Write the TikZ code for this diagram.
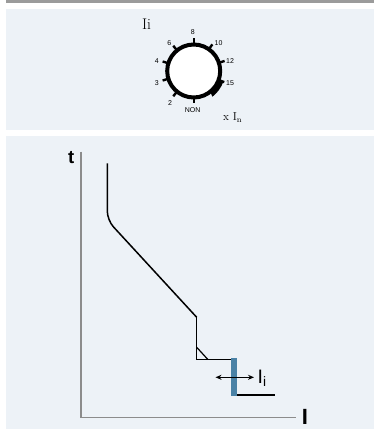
\documentclass[tikz,border=0pt]{standalone}
\usepackage{fontspec}
\newfontfamily\lsans{Liberation Sans}
\usetikzlibrary{arrows.meta}
\definecolor{panel}{HTML}{EDF2F7}
\definecolor{topbar}{HTML}{9B9B9B}
\definecolor{axisgray}{HTML}{8C8C8C}
\definecolor{barblue}{HTML}{4A82A6}
\tikzset{
  ticklbl/.style={font=\lsans\fontsize{7}{7}\selectfont, inner sep=0pt},
  dialtick/.style={line width=2.4pt},
  curve/.style={line width=1.5pt, line join=miter},
  axisline/.style={axisgray, line width=1.6pt},
}
\begin{document}
\begin{tikzpicture}[x=1pt,y=-1pt]
\useasboundingbox (0,0) rectangle (374,430);
% background bands
\fill[topbar] (6,0) rectangle (374,3);
\fill[panel] (6,9) rectangle (374,130);
\fill[panel] (6,136) rectangle (374,429);

% ---------- dial ----------
\node[font=\fontsize{15.5}{15.5}\selectfont, inner sep=0pt] (title) at (146.5,24.5) {Ii};
\begin{scope}[shift={(193.7,71)}, yscale=-1]
  \coordinate (dc) at (0,0);
  \draw[line width=4pt, fill=white] (dc) circle (26.5);
  \foreach \a in {90,55,18,-20,129,163,197,231,270}
    \draw[dialtick] (\a:27) -- (\a:32.5);
  \fill (-20:27) -- (-20:31.5) arc[start angle=-20, end angle=-52, radius=33.5]
        -- (-52:27) arc[start angle=-52, end angle=-20, radius=27] -- cycle;
\end{scope}
\node[ticklbl] (l8) at (192.7,32.3) {8};
\node[ticklbl] (l10) at (218.5,42.7) {10};
\node[ticklbl] (l12) at (230,61) {12};
\node[ticklbl] (l15) at (230,82.7) {15};
\node[ticklbl] (lnon) at (192.7,110) {NON};
\node[ticklbl] (l2) at (170,102.7) {2};
\node[ticklbl] (l3) at (156.7,83.3) {3};
\node[ticklbl] (l4) at (156.7,61) {4};
\node[ticklbl] (l6) at (169.3,42.7) {6};
\node[font=\fontsize{11.5}{11.5}\selectfont, inner sep=0pt, anchor=west] (xin) at (223,117.5) {x I\textsubscript{n}};

% ---------- characteristic ----------
\coordinate (ytop) at (80.7,151.7);
\coordinate (orig) at (80.7,417.3);
\coordinate (xend) at (296,417.3);
\draw[axisline] (ytop) -- (orig) -- (xend);
\node[font=\lsans\bfseries\fontsize{18.5}{18.5}\selectfont, inner sep=0pt] (tl) at (71.3,158) {t};
\node[font=\lsans\bfseries\fontsize{22}{22}\selectfont, inner sep=0pt] (il) at (305,416.5) {I};

\coordinate (c0) at (107.3,163.3);
\coordinate (c1) at (107.3,220.2);
\coordinate (c2) at (196.7,317.3);
\coordinate (c3) at (196.7,359.3);
\coordinate (c4) at (231,359.3);
\coordinate (d0) at (196.7,347.3);
\coordinate (d1) at (207.7,359.3);
\coordinate (b0) at (236.5,395);
\coordinate (b1) at (275,395);
\draw[curve, rounded corners=9pt] (c0) -- (c1) -- (c2);
\draw[curve] (c2) -- (c3) -- (c4);
\draw[line width=1.2pt] (d0) -- (d1);
\draw[curve] (b0) -- (b1);
\fill[barblue] (230.7,358.3) rectangle (236.7,396);
\coordinate (al) at (215.5,377.3);
\coordinate (ar) at (254,377.3);
\draw[line width=1.1pt, {Stealth[length=6pt,width=5pt]}-{Stealth[length=6pt,width=5pt]}] (al) -- (ar);
\node[font=\lsans\fontsize{19.5}{19.5}\selectfont, inner sep=0pt, anchor=west] (ii) at (257.5,378.5) {I\textsubscript{i}};
\end{tikzpicture}
\end{document}
